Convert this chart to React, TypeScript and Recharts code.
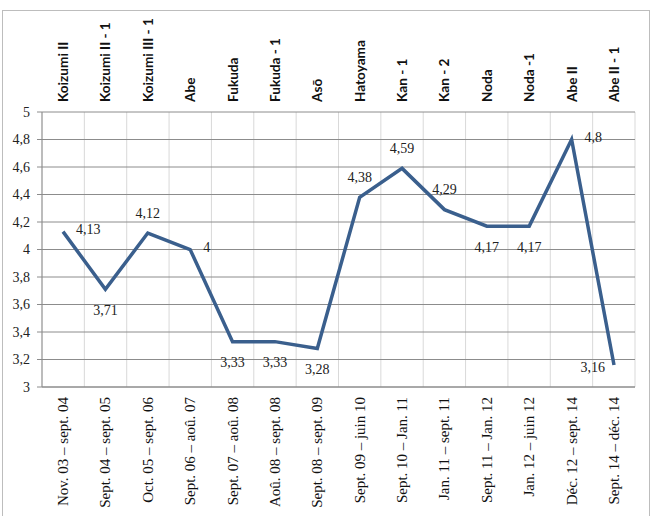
import React from 'react';
import { LineChart, Line, XAxis, YAxis, CartesianGrid, LabelList } from 'recharts';

const periods = [
  'Nov. 03 – sept. 04',
  'Sept. 04 – sept. 05',
  'Oct. 05 – sept. 06',
  'Sept. 06 – aoû. 07',
  'Sept. 07 – aoû. 08',
  'Aoû. 08 – sept. 08',
  'Sept. 08 – sept. 09',
  'Sept. 09 – juin 10',
  'Sept. 10 – Jan. 11',
  'Jan. 11 – sept. 11',
  'Sept. 11 – Jan. 12',
  'Jan. 12 – juin 12',
  'Déc. 12 – sept. 14',
  'Sept. 14 – déc. 14',
];

const governments = [
  'Koizumi II',
  'Koizumi II - 1',
  'Koizumi III - 1',
  'Abe',
  'Fukuda',
  'Fukuda - 1',
  'Asō',
  'Hatoyama',
  'Kan - 1',
  'Kan - 2',
  'Noda',
  'Noda -1',
  'Abe II',
  'Abe II - 1',
];

const scores = [4.13, 3.71, 4.12, 4.0, 3.33, 3.33, 3.28, 4.38, 4.59, 4.29, 4.17, 4.17, 4.8, 3.16];

const labelPlacement = [
  'right', 'below', 'above', 'right', 'below', 'below', 'below',
  'above', 'above', 'above', 'below', 'below', 'right', 'left',
];

const yTicks = [3, 3.2, 3.4, 3.6, 3.8, 4, 4.2, 4.4, 4.6, 4.8, 5];

const data = periods.map((p, i) => ({ period: p, gov: governments[i], score: scores[i] }));

const fmt = (v: number) => String(v).replace('.', ',');

const SERIF = '"Liberation Serif", "Times New Roman", serif';

const BottomTick = (props: any) => {
  const { x, y, payload } = props;
  return (
    <text
      x={x}
      y={y}
      transform={`rotate(-90, ${x}, ${y})`}
      textAnchor="end"
      dominantBaseline="central"
      fontFamily={SERIF}
      fontSize={15}
      fill="#111"
    >
      {payload.value}
    </text>
  );
};

const TopTick = (props: any) => {
  const { x, y, payload } = props;
  return (
    <text
      x={x}
      y={y}
      transform={`rotate(-90, ${x}, ${y})`}
      textAnchor="start"
      dominantBaseline="central"
      fontFamily="Lato, sans-serif"
      fontWeight="bold"
      fontSize={13.6}
      fill="#111"
    >
      {payload.value}
    </text>
  );
};

const PointLabel = (props: any) => {
  const { x, y, value, index } = props;
  const place = labelPlacement[index];
  let tx = x;
  let ty = y;
  let anchor: 'start' | 'middle' | 'end' = 'middle';
  if (place === 'right') {
    tx = x + 13;
    ty = y - 2;
    anchor = 'start';
  } else if (place === 'left') {
    tx = x - 9;
    ty = y + 2;
    anchor = 'end';
  } else if (place === 'above') {
    ty = y - 20;
  } else {
    ty = y + 21;
  }
  return (
    <text
      x={tx}
      y={ty}
      textAnchor={anchor}
      dominantBaseline="central"
      fontFamily={SERIF}
      fontSize={14}
      fill="#222"
    >
      {fmt(value)}
    </text>
  );
};

export default function App() {
  const n = data.length;
  const pad = { left: 21, right: 21 };
  return (
    <div style={{ position: 'absolute', left: 0, top: 0, width: 653, height: 516, background: '#fff' }}>
      <div
        style={{
          position: 'absolute',
          left: 2,
          top: 10,
          width: 648,
          height: 520,
          border: '1px solid #bdbdbd',
          boxSizing: 'border-box',
        }}
      />
      <div style={{ position: 'absolute', left: 0, top: 0 }}>
        <LineChart width={653} height={516} data={data} margin={{ top: 0, right: 18, bottom: 0, left: 0 }}>
          <CartesianGrid
            xAxisId="bottom"
            horizontal={false}
            stroke="#d9d9d9"
            verticalCoordinatesGenerator={({ offset }: any) =>
              Array.from({ length: n + 1 }, (_, i) => offset.left + (i * offset.width) / n)
            }
          />
          <CartesianGrid xAxisId="bottom" vertical={false} stroke="#8c8c8c" />
          <XAxis
            xAxisId="top"
            dataKey="gov"
            orientation="top"
            height={112}
            interval={0}
            padding={pad}
            axisLine={false}
            tickLine={false}
            tickSize={0}
            tickMargin={10}
            tick={<TopTick />}
          />
          <XAxis
            xAxisId="bottom"
            dataKey="period"
            orientation="bottom"
            height={129}
            interval={0}
            padding={pad}
            axisLine={{ stroke: '#8c8c8c' }}
            tickLine={false}
            tickSize={0}
            tickMargin={10}
            tick={<BottomTick />}
          />
          <YAxis
            width={42}
            domain={[3, 5]}
            ticks={yTicks}
            interval={0}
            tickFormatter={fmt}
            axisLine={{ stroke: '#8c8c8c' }}
            tickLine={{ stroke: '#8c8c8c' }}
            tickSize={5}
            tickMargin={7}
            tick={{ fontFamily: SERIF, fontSize: 14, fill: '#222' }}
          />
          <Line
            xAxisId="bottom"
            type="linear"
            dataKey="score"
            stroke="#3A5F8D"
            strokeWidth={3.5}
            dot={false}
            isAnimationActive={false}
          >
            <LabelList dataKey="score" content={<PointLabel />} />
          </Line>
        </LineChart>
      </div>
    </div>
  );
}
